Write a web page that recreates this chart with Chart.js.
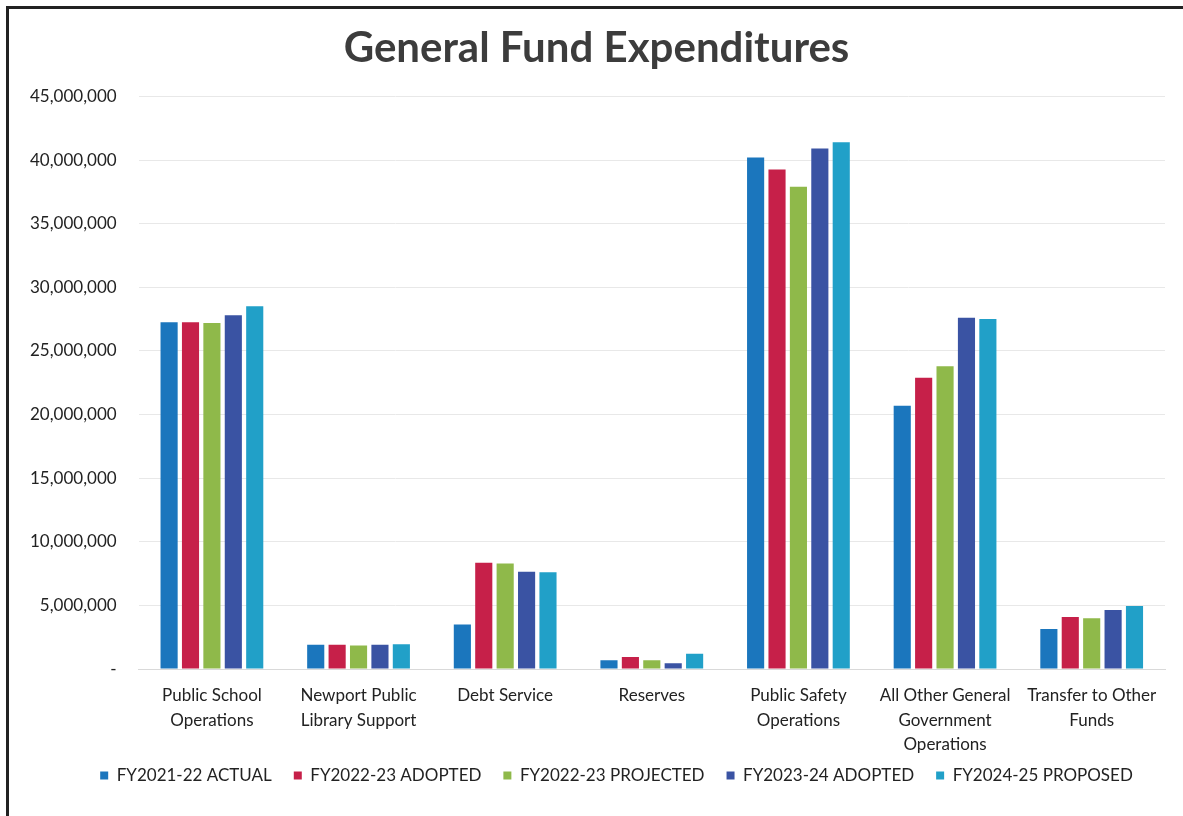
<!DOCTYPE html>
<html>
<head>
<meta charset="utf-8">
<script src="https://cdn.jsdelivr.net/npm/chart.js@4"></script>
<style>
  html, body { margin: 0; padding: 0; background: #fff; }
  #wrap { position: relative; width: 1183px; height: 816px; }
  #frame { position: absolute; left: 6px; top: 6px; right: -10px; bottom: -10px; border-left: 3px solid #222; border-top: 3px solid #222; }
  canvas { position: absolute; left: 0; top: 0; }
</style>
</head>
<body>
<div id="wrap">
  <div id="frame"></div>
  <canvas id="expenditure-chart"></canvas>
</div>
<script>
  var categories = [
      ['Public School', 'Operations'],
      ['Newport Public', 'Library Support'],
      'Debt Service',
      'Reserves',
      ['Public Safety', 'Operations'],
      ['All Other General', 'Government', 'Operations'],
      ['Transfer to Other', 'Funds']
  ];
  var seriesNames = ['FY2021-22 ACTUAL', 'FY2022-23 ADOPTED', 'FY2022-23 PROJECTED', 'FY2023-24 ADOPTED', 'FY2024-25 PROPOSED'];
  var seriesColors = ['#1b76bd', '#c62049', '#8fb94a', '#3a53a3', '#21a0c8'];

  var fy2122Actual    = [27250000, 1900000, 3500000, 700000, 40200000, 20700000, 3150000];
  var fy2223Adopted   = [27250000, 1900000, 8350000, 950000, 39250000, 22900000, 4100000];
  var fy2223Projected = [27200000, 1850000, 8300000, 700000, 37900000, 23800000, 4000000];
  var fy2324Adopted   = [27800000, 1900000, 7650000, 450000, 40900000, 27600000, 4650000];
  var fy2425Proposed  = [28500000, 1950000, 7600000, 1200000, 41400000, 27500000, 4950000];

  var yTicks = [0, 5000000, 10000000, 15000000, 20000000, 25000000, 30000000, 35000000, 40000000, 45000000];

  var allSeries = [fy2122Actual, fy2223Adopted, fy2223Projected, fy2324Adopted, fy2425Proposed];
  var datasets = [];
  for (var i = 0; i < allSeries.length; i++) {
      datasets.push({
          label: seriesNames[i],
          data: allSeries[i],
          backgroundColor: seriesColors[i],
          borderWidth: 0,
          categoryPercentage: 0.73,
          barPercentage: 0.8
      });
  }

  var fontFamily = 'Lato, "Open Sans", sans-serif';

  // pull the legend up closer to the category labels, and shift legend/title right a bit
  var layoutNudge = {
      id: 'layoutNudge',
      afterLayout: function(chart) {
          if (chart.legend) {
              chart.legend.top -= 18;
              chart.legend.bottom -= 18;
              chart.legend.left += 30;
              chart.legend.right += 30;
          }
          if (chart.titleBlock) {
              chart.titleBlock.left += 10;
              chart.titleBlock.right += 10;
          }
      }
  };

  var chartConfig = {
      type: 'bar',
      data: {
          labels: categories,
          datasets: datasets
      },
      options: {
          responsive: true,
          maintainAspectRatio: false,
          animation: false,
          layout: {
              padding: { left: 8, right: 18, top: 23, bottom: 4 }
          },
          plugins: {
              title: {
                  display: true,
                  text: 'General Fund Expenditures',
                  color: '#3c3c3c',
                  font: { family: fontFamily, size: 42, weight: 'bold' },
                  padding: { top: 0, bottom: 23 }
              },
              legend: {
                  position: 'bottom',
                  labels: {
                      color: '#222',
                      boxWidth: 8,
                      boxHeight: 8,
                      padding: 22,
                      font: { family: fontFamily, size: 17 }
                  }
              },
              tooltip: { enabled: false }
          },
          scales: {
              x: {
                  grid: { display: false },
                  border: { color: '#d9d9d9' },
                  ticks: {
                      color: '#222',
                      maxRotation: 0,
                      autoSkip: false,
                      padding: 6,
                      font: { family: fontFamily, size: 17, lineHeight: 1.45 }
                  }
              },
              y: {
                  min: 0,
                  max: 45000000,
                  afterBuildTicks: function(axis) {
                      axis.ticks = yTicks.map(function(v) { return { value: v }; });
                  },
                  grid: { color: '#e8e8e8', drawTicks: false },
                  border: { display: false },
                  ticks: {
                      color: '#222',
                      padding: 22,
                      font: { family: fontFamily, size: 17 },
                      callback: function(value) {
                          if (value === 0) return '-';
                          return value.toLocaleString('en-US');
                      }
                  }
              }
          }
      },
      plugins: [layoutNudge]
  };

  window.onload = function() {
      var ctx = document.getElementById('expenditure-chart').getContext('2d');
      document.getElementById('expenditure-chart').parentNode.style.height = '816px';
      window.expenditureChart = new Chart(ctx, chartConfig);
  };
</script>
</body>
</html>
